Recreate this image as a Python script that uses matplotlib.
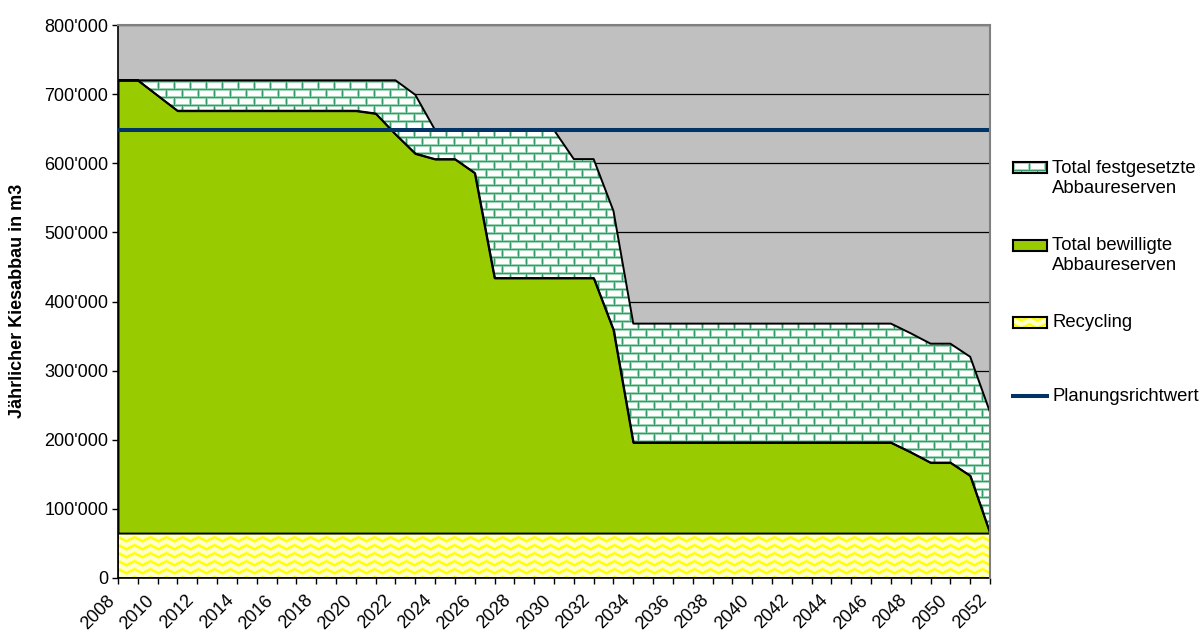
import numpy as np
import matplotlib
matplotlib.use("Agg")
import matplotlib.pyplot as plt
from matplotlib.lines import Line2D
from matplotlib.transforms import ScaledTranslation

plt.rcParams['font.family'] = ['Liberation Sans', 'DejaVu Sans']

# data (m3 per year)
years = list(range(2008, 2053))
recycling = [65000, 65000, 65000, 65000, 65000, 65000, 65000, 65000, 65000,
             65000, 65000, 65000, 65000, 65000, 65000, 65000, 65000, 65000,
             65000, 65000, 65000, 65000, 65000, 65000, 65000, 65000, 65000,
             65000, 65000, 65000, 65000, 65000, 65000, 65000, 65000, 65000,
             65000, 65000, 65000, 65000, 65000, 65000, 65000, 65000, 65000]
bewilligte = [655000, 655000, 633000, 611000, 611000, 611000, 611000, 611000,
              611000, 611000, 611000, 611000, 611000, 607000, 577000, 549000,
              541000, 541000, 521000, 369000, 369000, 369000, 369000, 369000,
              369000, 294000, 131000, 131000, 131000, 131000, 131000, 131000,
              131000, 131000, 131000, 131000, 131000, 131000, 131000, 131000,
              117000, 102000, 102000, 83000, 0]
festgesetzte = [0, 0, 22000, 44000, 44000, 44000, 44000, 44000, 44000, 44000,
                44000, 44000, 44000, 48000, 78000, 85000, 42000, 42000, 62000,
                214000, 214000, 214000, 214000, 172000, 172000, 172000, 172000,
                172000, 172000, 172000, 172000, 172000, 172000, 172000, 172000,
                172000, 172000, 172000, 172000, 172000, 172000, 172000, 172000,
                172000, 175000]
richtwert = [648000] * len(years)

labels = ["Total festgesetzte\nAbbaureserven", "Total bewilligte\nAbbaureserven",
          "Recycling", "Planungsrichtwert"]

GREEN = "#99cc00"
NAVY = "#003366"
GRAY_BG = "#c0c0c0"


def brick_texture(h, w):
    y, x = np.mgrid[0:h, 0:w]
    row = y // 8
    xs = (x + (row % 2) * 8) % 16
    ys = y % 8
    img = np.ones((h, w, 3))
    halo = (ys == 1) | (ys == 7) | (xs == 1) | (xs == 15)
    mortar = (ys == 0) | (xs == 0)
    img[halo] = [0.62, 0.84, 0.72]
    img[mortar] = [0.22, 0.60, 0.42]
    return img


def zigzag_texture(h, w):
    y, x = np.mgrid[0:h, 0:w]
    off = np.abs((x % 16) - 8) / 2.0
    d = np.floor(y + off).astype(int) % 8
    img = np.empty((h, w, 3))
    img[:] = [1.0, 1.0, 0.80]
    img[(d == 2) | (d == 5)] = [1.0, 1.0, 0.50]
    img[(d == 3) | (d == 4)] = [1.0, 1.0, 0.0]
    return img


W, H = 1203, 637
fig = plt.figure(figsize=(W / 100, H / 100), dpi=100)
ax_l, ax_b, ax_w, ax_h = 118, 59, 872, 553
ax = fig.add_axes([ax_l / W, ax_b / H, ax_w / W, ax_h / H])
ax.set_facecolor(GRAY_BG)

x = np.array(years)
r = np.array(recycling)
b = r + np.array(bewilligte)
f = b + np.array(festgesetzte)

ax.set_xlim(2008, 2052)
ax.set_ylim(0, 800000)

# gridlines under the areas
ax.set_axisbelow(True)
ax.yaxis.grid(True, color="black", lw=0.9)

ext = (2008, 2052, 0, 800000)

# recycling (zigzag)
p_rec = ax.fill_between(x, 0, r, facecolor="none", edgecolor="black", lw=1.2, zorder=3)
im = ax.imshow(zigzag_texture(ax_h, ax_w), extent=ext, aspect="auto",
               interpolation="nearest", zorder=2)
im.set_clip_path(p_rec.get_paths()[0], ax.transData)

# bewilligte (solid green)
ax.fill_between(x, r, b, facecolor=GREEN, edgecolor="black", lw=1.4, zorder=3)

# festgesetzte (bricks)
p_fest = ax.fill_between(x, b, f, facecolor="none", edgecolor="black", lw=1.4, zorder=4)
im2 = ax.imshow(brick_texture(ax_h, ax_w), extent=ext, aspect="auto",
                interpolation="nearest", zorder=2.5)
im2.set_clip_path(p_fest.get_paths()[0], ax.transData)

ax.plot(x, richtwert, color=NAVY, lw=2.9, zorder=5, solid_capstyle="butt")

# axes styling
ax.set_xticks(years)
ax.set_xticklabels([str(yr) if (yr - 2008) % 2 == 0 else "" for yr in years],
                   rotation=45, ha="right", rotation_mode="anchor")
yt = list(range(0, 800001, 100000))
ax.set_yticks(yt)
ax.set_yticklabels([f"{v:,}".replace(",", "'") for v in yt])
ax.tick_params(direction="out", length=4, width=1, labelsize=13, pad=3)
ax.tick_params(axis="x", pad=6)
shift = ScaledTranslation(-0.12, 0.0, fig.dpi_scale_trans)
for lbl in ax.get_xticklabels():
    lbl.set_transform(lbl.get_transform() + shift)
for s in ["left", "bottom"]:
    ax.spines[s].set_color("black")
    ax.spines[s].set_linewidth(1.2)
for s in ["top", "right"]:
    ax.spines[s].set_color("#808080")
    ax.spines[s].set_linewidth(1.5)
    ax.spines[s].set_zorder(6)

fig.text(18 / W, 1 - 301 / H, "Jährlicher Kiesabbau in m3", rotation=90,
         ha="center", va="center", fontsize=13, fontweight="bold")

# legend, built by hand so the markers sit on the first text line
leg_y = [168, 245, 322, 396]
px0, px1, ph = 1013, 1047, 11
tex = [brick_texture(ph, px1 - px0), None, zigzag_texture(ph, px1 - px0)]
for i in range(3):
    yc = leg_y[i]
    lax = fig.add_axes([px0 / W, (H - yc - ph / 2) / H, (px1 - px0) / W, ph / H])
    if tex[i] is None:
        lax.set_facecolor(GREEN)
    else:
        lax.imshow(tex[i], aspect="auto", interpolation="nearest")
    lax.set_xticks([])
    lax.set_yticks([])
    for s in lax.spines.values():
        s.set_color("black")
        s.set_linewidth(1.5)
fig.add_artist(Line2D([px0 / W, px1 / W], [1 - leg_y[3] / H] * 2, color=NAVY, lw=2.9))
for i, lab in enumerate(labels):
    fig.text(1052 / W, 1 - (leg_y[i] - 8) / H, lab, ha="left", va="top",
             fontsize=13.3, linespacing=1.22)

fig.savefig("out.png", dpi=100)
